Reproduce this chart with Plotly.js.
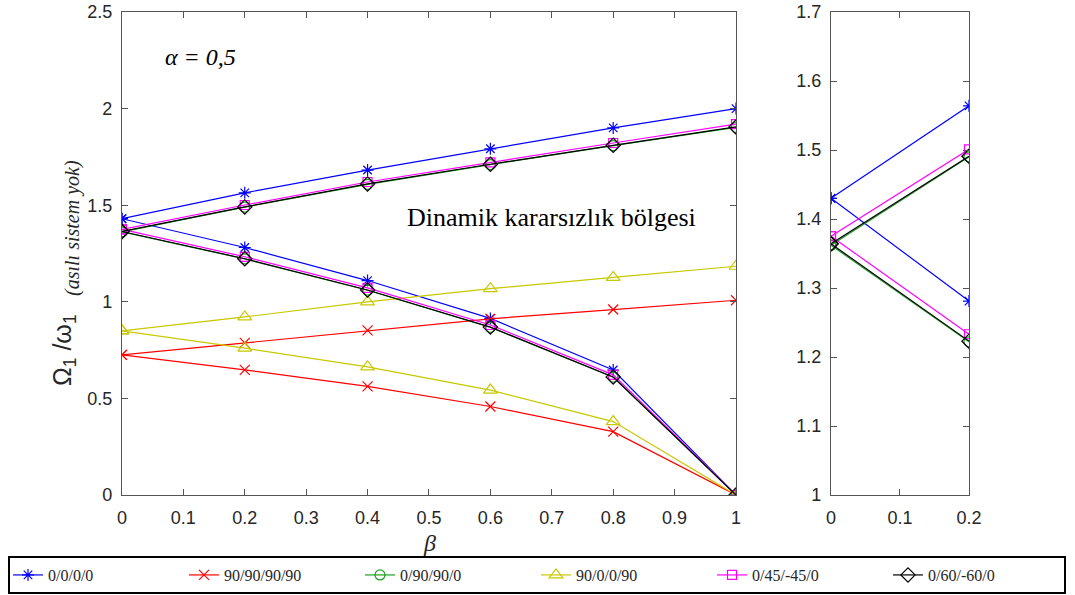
<!DOCTYPE html>
<html>
<head>
<meta charset="utf-8">
<script src="https://cdn.plot.ly/plotly-3.0.1.min.js"></script>
<style>html,body{margin:0;padding:0;background:#fff;}#chart{width:1075px;height:595px;}</style>
</head>
<body>
<div id="chart"></div>
<script>
// beta values
const beta = [0, 0.2, 0.4, 0.6, 0.8, 1.0];
// series names
const names = ['0/0/0/0', '90/90/90/90', '0/90/90/0', '90/0/0/90', '0/45/-45/0', '0/60/-60/0'];
// upper branch values (Omega1/omega1)
const up_0000   = [1.430, 1.564, 1.682, 1.792, 1.900, 2.000];
const up_90all  = [0.725, 0.787, 0.852, 0.912, 0.960, 1.008];
const up_0909   = [1.362, 1.490, 1.608, 1.710, 1.808, 1.903];
const up_90009  = [0.850, 0.922, 1.000, 1.068, 1.126, 1.184];
const up_045    = [1.375, 1.501, 1.620, 1.722, 1.822, 1.920];
const up_060    = [1.364, 1.491, 1.610, 1.712, 1.810, 1.905];
// lower branch values
const lo_0000   = [1.430, 1.281, 1.110, 0.914, 0.647, 0.0];
const lo_90all  = [0.725, 0.648, 0.562, 0.458, 0.328, 0.0];
const lo_0909   = [1.362, 1.222, 1.060, 0.868, 0.610, 0.0];
const lo_90009  = [0.850, 0.760, 0.663, 0.543, 0.380, 0.0];
const lo_045    = [1.375, 1.233, 1.072, 0.880, 0.622, 0.0];
const lo_060    = [1.364, 1.223, 1.061, 0.869, 0.611, 0.0];

const ups = [up_0000, up_90all, up_0909, up_90009, up_045, up_060];
const los = [lo_0000, lo_90all, lo_0909, lo_90009, lo_045, lo_060];
const colors = ['#0000FF', '#FF0000', '#1E9E1E', '#C8C800', '#FF00FF', '#000000'];
const symbols = ['asterisk-open', 'x-thin-open', 'circle-open', 'triangle-up-open', 'square-open', 'diamond-open'];
const msizes = [10, 10, 10, 12, 9, 11];
// series shown in the zoomed right panel
const zoomSeries = [0, 2, 4, 5];

const traces = [];
for (let i = 0; i < names.length; i++) {
  const common = {
    mode: 'lines+markers', type: 'scatter',
    line: {color: colors[i], width: 1.2},
    marker: {symbol: symbols[i], size: msizes[i], color: colors[i], line: {color: colors[i], width: 1.2}},
    legendgroup: names[i], name: names[i]
  };
  traces.push(Object.assign({}, common, {x: beta, y: ups[i], xaxis: 'x', yaxis: 'y', showlegend: true}));
  traces.push(Object.assign({}, common, {x: beta, y: los[i], xaxis: 'x', yaxis: 'y', showlegend: false}));
}
for (const i of zoomSeries) {
  const common = {
    mode: 'lines+markers', type: 'scatter',
    line: {color: colors[i], width: 1.2},
    marker: {symbol: symbols[i], size: msizes[i], color: colors[i], line: {color: colors[i], width: 1.2}},
    legendgroup: names[i], name: names[i], showlegend: false, xaxis: 'x2', yaxis: 'y2'
  };
  traces.push(Object.assign({}, common, {x: beta.slice(0, 2), y: ups[i].slice(0, 2)}));
  traces.push(Object.assign({}, common, {x: beta.slice(0, 2), y: los[i].slice(0, 2)}));
}

const SANS = 'Liberation Sans';
const SERIF = 'Liberation Serif';

const axisCommon = {
  showgrid: false, zeroline: false, showline: true, linecolor: '#555555', linewidth: 1,
  mirror: 'allticks', ticks: 'inside', ticklen: 6, tickcolor: '#555555',
  tickfont: {family: SANS, size: 18, color: '#262626'}
};

const layout = {
  width: 1075, height: 595,
  margin: {l: 8, r: 7, t: 12, b: 100},
  paper_bgcolor: '#fff', plot_bgcolor: '#fff',
  showlegend: true,
  xaxis: Object.assign({}, axisCommon, {domain: [0.1075, 0.6868], range: [0, 1], ticklabelstandoff: 6,
    tickvals: [0,0.1,0.2,0.3,0.4,0.5,0.6,0.7,0.8,0.9,1], ticktext: ['0','0.1','0.2','0.3','0.4','0.5','0.6','0.7','0.8','0.9','1']}),
  yaxis: Object.assign({}, axisCommon, {range: [0, 2.5], ticklabelstandoff: 5,
    tickvals: [0,0.5,1,1.5,2,2.5], ticktext: ['0','0.5','1','1.5','2','2.5']}),
  xaxis2: Object.assign({}, axisCommon, {domain: [0.7764, 0.9066], range: [0, 0.2], anchor: 'y2', ticklabelstandoff: 6,
    tickvals: [0,0.1,0.2], ticktext: ['0','0.1','0.2']}),
  yaxis2: Object.assign({}, axisCommon, {range: [1, 1.7], anchor: 'x2', ticklabelstandoff: 5,
    tickvals: [1,1.1,1.2,1.3,1.4,1.5,1.6,1.7], ticktext: ['1','1.1','1.2','1.3','1.4','1.5','1.6','1.7']}),
  legend: {
    orientation: 'h', xref: 'paper', yref: 'container',
    x: 0, y: 0.0655, xanchor: 'left', yanchor: 'top',
    bordercolor: '#000', borderwidth: 2, bgcolor: '#fff',
    entrywidth: 131, entrywidthmode: 'pixels', itemwidth: 30,
    font: {family: SERIF, size: 16, color: '#262626'},
    tracegroupgap: 0
  },
  annotations: [
    {text: '<i>α = 0,5</i>', xref: 'paper', yref: 'paper', x: 0.1462, y: 0.907, xanchor: 'left', yanchor: 'middle', showarrow: false,
     font: {family: SERIF, size: 24, color: '#000'}},
    {text: 'Dinamik kararsızlık bölgesi', xref: 'paper', yref: 'paper', x: 0.3745, y: 0.5735, xanchor: 'left', yanchor: 'middle', showarrow: false,
     font: {family: SERIF, size: 26, color: '#000'}},
    {text: 'Ω<sub>1</sub> /ω<sub>1</sub>', xref: 'paper', yref: 'paper', x: 0.0528, y: 0.3002, xanchor: 'center', yanchor: 'middle', showarrow: false, textangle: -90,
     font: {family: SANS, size: 25, color: '#262626'}},
    {text: '<i>(asılı sistem yok)</i>', xref: 'paper', yref: 'paper', x: 0.0613, y: 0.5528, xanchor: 'center', yanchor: 'middle', showarrow: false, textangle: -90,
     font: {family: SERIF, size: 20, color: '#262626'}},
    {text: '<i>β</i>', xref: 'paper', yref: 'paper', x: 0.3981, y: -0.1, xanchor: 'center', yanchor: 'middle', showarrow: false,
     font: {family: SERIF, size: 24, color: '#262626'}}
  ]
};

Plotly.newPlot('chart', traces, layout, {staticPlot: true, displayModeBar: false});
</script>
</body>
</html>
